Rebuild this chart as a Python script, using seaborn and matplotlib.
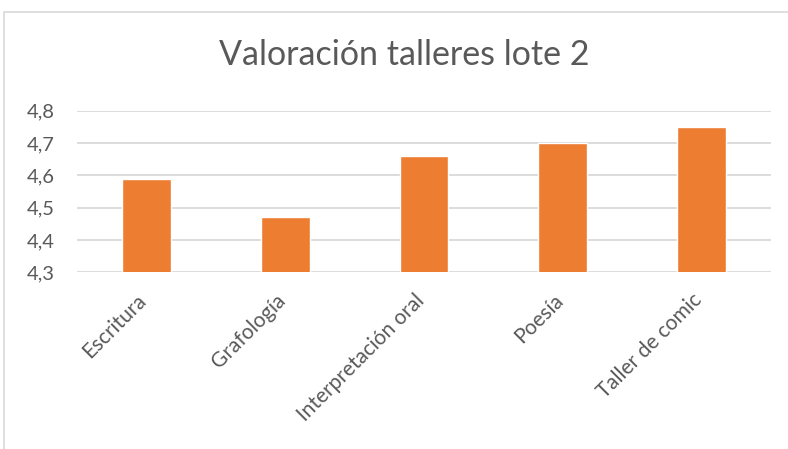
import matplotlib
matplotlib.use("Agg")
import matplotlib.pyplot as plt
from matplotlib.patches import Rectangle
from matplotlib.ticker import FuncFormatter, MultipleLocator
from matplotlib.transforms import ScaledTranslation
import pandas as pd
import seaborn as sns

talleres = ["Escritura", "Grafología", "Interpretación oral", "Poesía", "Taller de comic"]
valoracion = [4.59, 4.47, 4.66, 4.70, 4.75]

df = pd.DataFrame({"taller": talleres, "valoracion": valoracion})

sns.set_style("white")
plt.rcParams["font.family"] = ["Lato", "DejaVu Sans"]

text_col = "#595959"
grid_col = "#D9D9D9"

fig = plt.figure(figsize=(7.88, 4.49), dpi=100)
ax = fig.add_axes([77/788, 1 - 272.3/449, (771 - 77)/788, (272.3 - 110.7)/449])

sns.barplot(data=df, x="taller", y="valoracion", color="#ED7D31", width=0.353,
            saturation=1, ax=ax, zorder=3)

ax.set_ylim(4.3, 4.8)
ax.yaxis.set_major_locator(MultipleLocator(0.1))
ax.yaxis.set_major_formatter(FuncFormatter(lambda v, p: f"{v:.1f}".replace(".", ",")))
ax.grid(axis="y", color=grid_col, lw=1.3, zorder=0)
ax.set_axisbelow(True)
for s in ax.spines.values():
    s.set_visible(False)
ax.set_xlabel("")
ax.set_ylabel("")
ax.tick_params(axis="y", length=0, labelsize=14.5, labelcolor=text_col, pad=16)
ax.tick_params(axis="x", length=0, labelsize=15, labelcolor=text_col, pad=7)
shift = ScaledTranslation(-10/100, -8/100, fig.dpi_scale_trans)
for lab in ax.get_xticklabels():
    lab.set_rotation(45)
    lab.set_ha("right")
    lab.set_rotation_mode("anchor")
    lab.set_transform(lab.get_transform() + shift)

fig.text(404/788, 1 - 55/449, "Valoración talleres lote 2", ha="center", va="center",
         fontsize=24.5, color=text_col)

fig.patches.append(Rectangle((4/788, -0.1), 1.2, (449 - 12)/449 + 0.1,
                             transform=fig.transFigure, fill=False,
                             edgecolor=grid_col, lw=1.2))

fig.savefig("out.png", dpi=100, facecolor="white")
